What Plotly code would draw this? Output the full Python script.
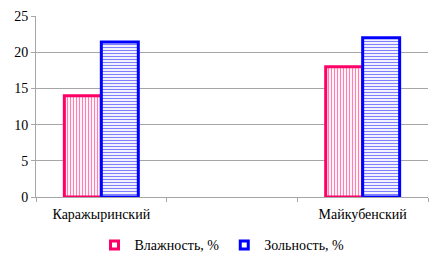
import plotly.graph_objects as go

categories = ["Каражыринский", " ", "Майкубенский"]
bar_categories = ["Каражыринский", "Майкубенский"]
vlazhnost = [14, 18]
zolnost = [21.4, 22]
series_names = ["Влажность, %", "Зольность, %"]
y_ticks = [0, 5, 10, 15, 20, 25]

pink = "#FF0066"
blue = "#0000FF"

fig = go.Figure()
fig.add_trace(go.Bar(
    x=bar_categories, y=vlazhnost, name=series_names[0], showlegend=False,
    marker=dict(color="white", line=dict(color=pink, width=3),
                pattern=dict(shape="|", fgcolor=pink, bgcolor="white", size=3, solidity=0.4)),
))
fig.add_trace(go.Bar(
    x=bar_categories, y=zolnost, name=series_names[1], showlegend=False,
    marker=dict(color="white", line=dict(color=blue, width=3),
                pattern=dict(shape="-", fgcolor=blue, bgcolor="white", size=3, solidity=0.4)),
))
# legend entries (square swatches like the original)
for name, col in zip(series_names, [pink, blue]):
    fig.add_trace(go.Scatter(
        x=[None], y=[None], mode="markers", name=name,
        marker=dict(symbol="square", size=8, color="white", line=dict(color=col, width=3)),
    ))

font = dict(family="Liberation Serif", size=14, color="black")
fig.update_layout(
    width=444, height=269,
    margin=dict(l=36, r=16, t=16, b=72, autoexpand=False),
    paper_bgcolor="white", plot_bgcolor="white",
    barmode="group", bargap=0.434, bargroupgap=0,
    font=font,
    showlegend=True,
    legend=dict(orientation="h", x=0.5, xanchor="center", xref="container",
                y=0.088, yanchor="middle", yref="container",
                font=font, itemwidth=30, traceorder="normal", tracegroupgap=0,
                bgcolor="rgba(0,0,0,0)"),
    xaxis=dict(type="category", categoryorder="array", categoryarray=categories,
               range=[-0.5, 2.5], tickson="boundaries", ticks="outside", ticklen=4,
               tickcolor="#A6A6A6", showline=True, linecolor="#A6A6A6", linewidth=1,
               showgrid=False, tickfont=font, automargin=False, ticklabelstandoff=4,
               tickangle=0),
    yaxis=dict(range=[0, 25], tickvals=y_ticks, ticks="outside", ticklen=4,
               tickcolor="#A6A6A6", showline=True, linecolor="#A6A6A6", linewidth=1,
               showgrid=True, gridcolor="#A6A6A6", gridwidth=1, zeroline=False,
               tickfont=font, automargin=False),
)

fig.write_html("out.html", config={"displayModeBar": False},
               post_script="document.body.style.margin='0';")
